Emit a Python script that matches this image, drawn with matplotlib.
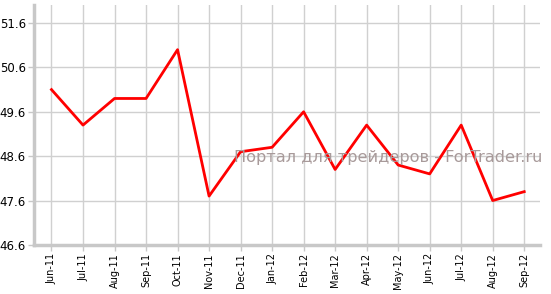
import matplotlib
matplotlib.use('Agg')
import matplotlib.pyplot as plt

months = ['Jun-11', 'Jul-11', 'Aug-11', 'Sep-11', 'Oct-11', 'Nov-11', 'Dec-11',
          'Jan-12', 'Feb-12', 'Mar-12', 'Apr-12', 'May-12', 'Jun-12', 'Jul-12',
          'Aug-12', 'Sep-12']
values = [50.1, 49.3, 49.9, 49.9, 51.0, 47.7, 48.7, 48.8, 49.6, 48.3, 49.3,
          48.4, 48.2, 49.3, 47.6, 47.8]
yticks = [46.6, 47.6, 48.6, 49.6, 50.6, 51.6]

fig = plt.figure(figsize=(5.51, 2.94), dpi=100)
ax = fig.add_axes([0.062, 0.167, 0.918, 0.815])

x = list(range(len(months)))
ax.plot(x, values, color='#ff0000', lw=2, zorder=3)

ax.set_xlim(-0.55, 15.5)
ax.set_ylim(46.6, 52.0)
ax.set_xticks(x)
ax.set_xticklabels(months, rotation=90, fontsize=7)
ax.set_yticks(yticks)
ax.set_yticklabels(['%.1f' % v for v in yticks], fontsize=8.5)
ax.grid(True, color='#d0d0d0', lw=1)
ax.set_axisbelow(True)

for s in ['top', 'right']:
    ax.spines[s].set_visible(False)
for s in ['left', 'bottom']:
    ax.spines[s].set_color('#c8c8c8')
    ax.spines[s].set_linewidth(2.5)
ax.tick_params(axis='both', color='#c8c8c8', length=4, width=1, pad=2)

# watermark
fig.text(0.425, 0.465, 'Портал для трейдеров - ForTrader.ru', fontsize=11.6,
         color='#a89a9a', va='center', ha='left', zorder=5)

fig.savefig('out.png', dpi=100)
